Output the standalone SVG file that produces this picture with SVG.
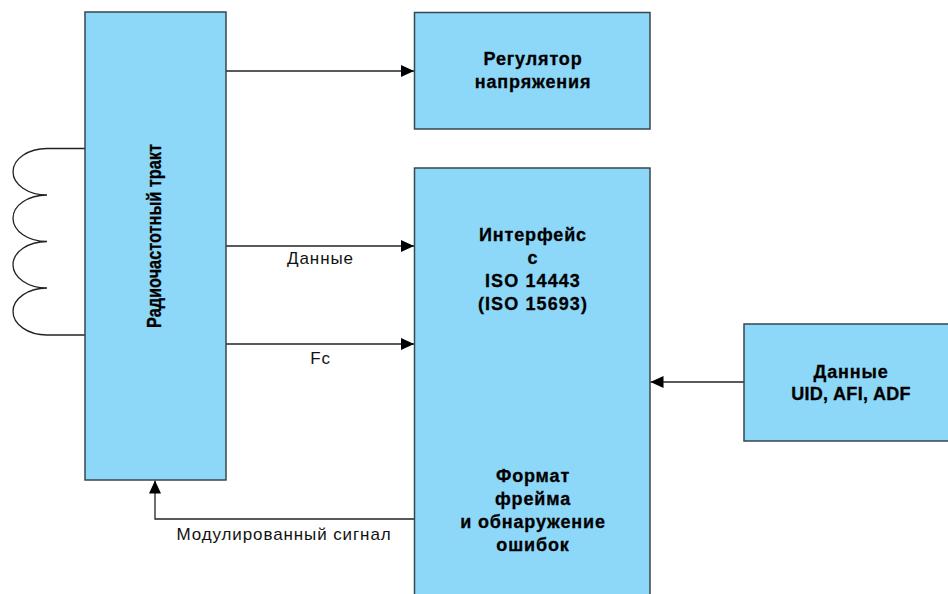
<svg xmlns="http://www.w3.org/2000/svg" width="948" height="594" viewBox="0 0 948 594">
<style>
.box{fill:#8dd8f8;stroke:#37474f;stroke-width:1.5}
.t{font-family:"Liberation Sans",Arial,sans-serif;font-weight:bold;font-size:18px;fill:#000;stroke:#000;stroke-width:.3;text-anchor:middle;letter-spacing:.85px}
.i{letter-spacing:1.1px}
.l{font-family:"Liberation Sans",Arial,sans-serif;font-size:17px;fill:#111;text-anchor:middle;letter-spacing:.9px}
.c{fill:none;stroke:#222;stroke-width:1.3}
</style>
<defs><marker id="a" markerUnits="userSpaceOnUse" markerWidth="14" markerHeight="12" refX="13" refY="6" orient="auto"><path d="M0 0L13 6L0 12z" fill="#000"/></marker></defs>
<rect width="948" height="594" fill="#fff"/>
<g id="connectors">
<path class="c" d="M226 71H414" marker-end="url(#a)"/>
<path class="c" d="M226 246H414" marker-end="url(#a)"/>
<path class="c" d="M226 344H414" marker-end="url(#a)"/>
<path class="c" d="M744 382H650.500" marker-end="url(#a)"/>
<path class="c" d="M414 519H155V480.500" marker-end="url(#a)"/>
<path class="c" d="M85 148.500H47A34 23.250 0 0 0 47 195A34 23.250 0 0 0 47 241.500A34 23.250 0 0 0 47 288A34 23.500 0 0 0 47 335H85"/>
</g>
<g id="rf"><rect class="box" x="85" y="12" width="141" height="468"/><text class="t" style="letter-spacing:0;font-size:20px" transform="translate(160.500 236) rotate(-90)" textLength="184" lengthAdjust="spacingAndGlyphs">Радиочастотный тракт</text></g>
<g id="reg"><rect class="box" x="414.500" y="12.500" width="235.500" height="116.500"/><text class="t" x="533" y="65">Регулятор</text><text class="t" x="533" y="88">напряжения</text></g>
<g id="iface"><rect class="box" x="414.500" y="168" width="235.500" height="440"/>
<text class="t" x="533" y="241">Интерфейс</text><text class="t" x="533" y="264">с</text><text class="t i" x="533" y="287">ISO 14443</text><text class="t i" x="533" y="310">(ISO 15693)</text>
<text class="t" x="533" y="482">Формат</text><text class="t" x="533" y="505">фрейма</text><text class="t" x="533" y="528">и обнаружение</text><text class="t" x="533" y="551">ошибок</text></g>
<g id="data"><rect class="box" x="744" y="324" width="220" height="117"/><text class="t" x="851" y="378">Данные</text><text class="t" style="letter-spacing:.3px" x="851" y="400">UID, AFI, ADF</text></g>
<g id="labels"><text class="l" x="320.500" y="264">Данные</text><text class="l" x="320.500" y="364">Fc</text><text class="l" x="284" y="540">Модулированный сигнал</text></g>
</svg>
